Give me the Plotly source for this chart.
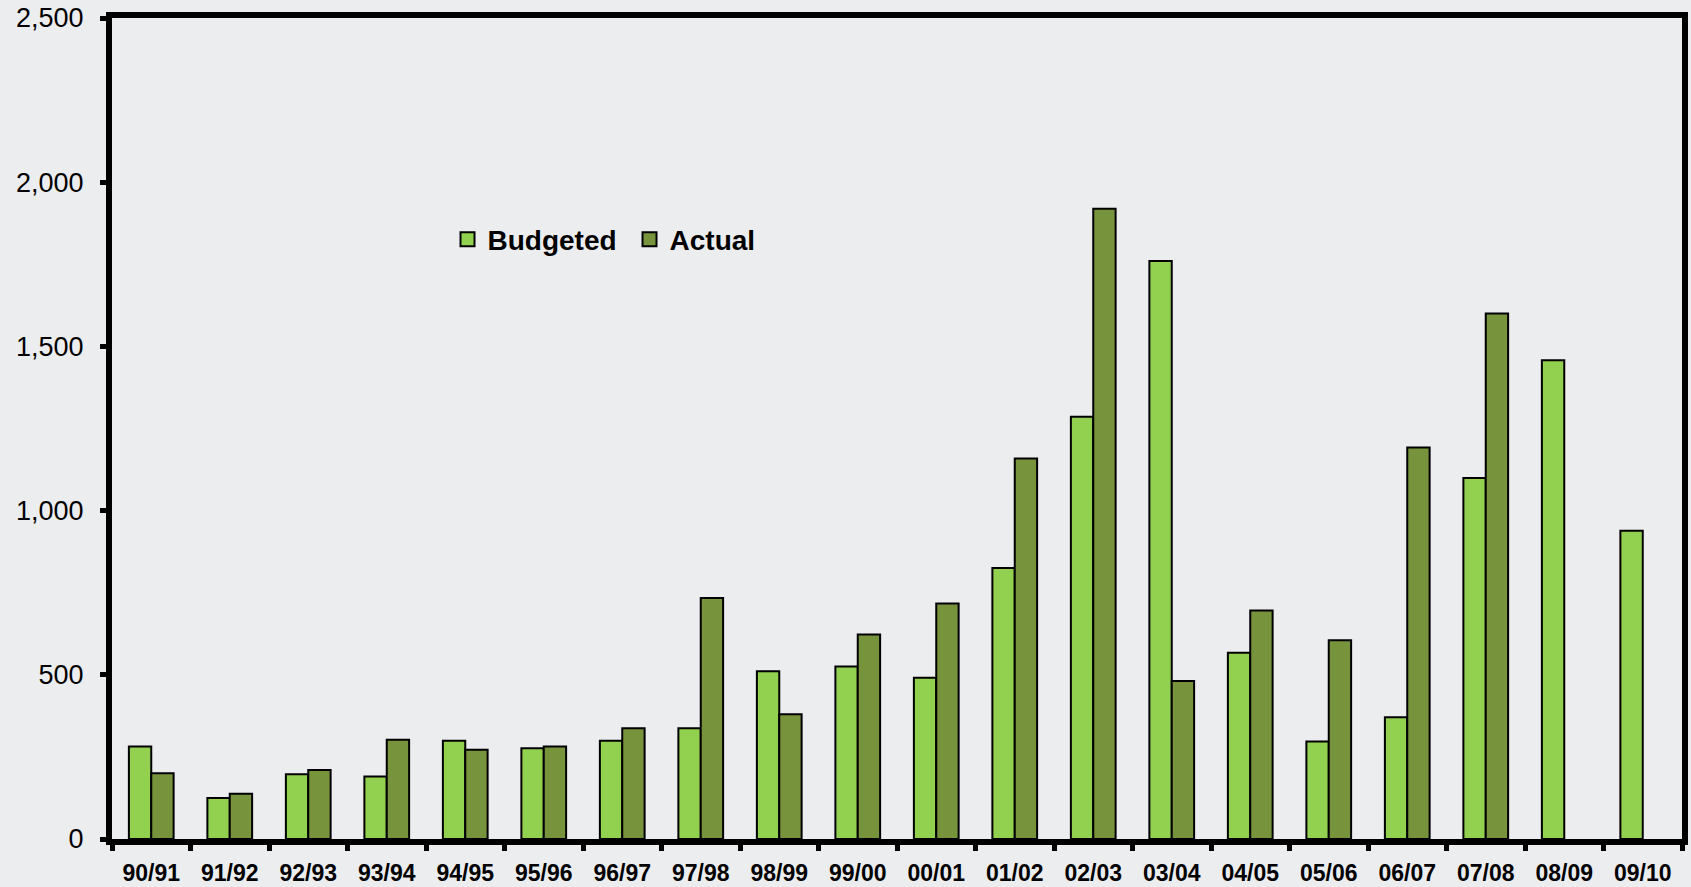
import plotly.graph_objects as go

# Fiscal years
years = ["90/91", "91/92", "92/93", "93/94", "94/95", "95/96", "96/97", "97/98",
         "98/99", "99/00", "00/01", "01/02", "02/03", "03/04", "04/05", "05/06",
         "06/07", "07/08", "08/09", "09/10"]

budgeted = [282, 125, 197, 190, 299, 276, 299, 337, 511, 525, 491, 825, 1286,
            1760, 567, 297, 371, 1099, 1458, 939]

actual = [200, 138, 210, 302, 272, 282, 337, 734, 380, 623, 717, 1159, 1919,
          481, 696, 605, 1192, 1600, None, None]

y_ticks = [0, 500, 1000, 1500, 2000, 2500]
y_tick_text = ["0", "500", "1,000", "1,500", "2,000", "2,500"]

BG = "#ECEDEF"
FONT = "Arial, Liberation Sans, sans-serif"
COLORS = {"Budgeted": "#92D050", "Actual": "#77933C"}

fig = go.Figure()
for name, values in (("Budgeted", budgeted), ("Actual", actual)):
    fig.add_trace(go.Bar(
        name=name, x=years, y=values, showlegend=False, legendgroup=name,
        marker=dict(color=COLORS[name], line=dict(color="black", width=2)),
    ))

# Legend entries with larger square swatches
for name in ("Budgeted", "Actual"):
    fig.add_trace(go.Scatter(
        name=name, x=[None], y=[None], mode="markers", legendgroup=name,
        marker=dict(symbol="square", size=14, color=COLORS[name],
                    line=dict(color="black", width=2)),
    ))

fig.update_layout(
    width=1691, height=887,
    margin=dict(l=112, r=9, t=18, b=48, autoexpand=False),
    paper_bgcolor=BG, plot_bgcolor=BG,
    barmode="group", bargap=0.43, bargroupgap=0,
    font=dict(family=FONT, color="black"),
    showlegend=True,
    legend=dict(
        orientation="h", x=0.2137, xanchor="left", y=0.73, yanchor="middle",
        bgcolor="rgba(0,0,0,0)", borderwidth=0,
        font=dict(family=FONT, size=28, color="black", weight="bold"),
        entrywidth=137, entrywidthmode="pixels",
    ),
)

fig.update_xaxes(
    automargin=False,
    showline=True, linecolor="black", linewidth=6, mirror=True,
    showgrid=False, ticks="outside", tickson="boundaries",
    ticklen=6, tickwidth=5, tickcolor="black",
    tickfont=dict(family=FONT, size=23, color="black", weight="bold"),
    ticklabelstandoff=8,
)
fig.update_yaxes(
    automargin=False,
    range=[0, 2500], tickvals=y_ticks, ticktext=y_tick_text,
    showline=True, linecolor="black", linewidth=6, mirror=True,
    showgrid=False, zeroline=False, ticks="outside",
    ticklen=6, tickwidth=5, tickcolor="black",
    tickfont=dict(family=FONT, size=27, color="black"),
    ticklabelstandoff=11,
)

fig.write_html("out.html")
